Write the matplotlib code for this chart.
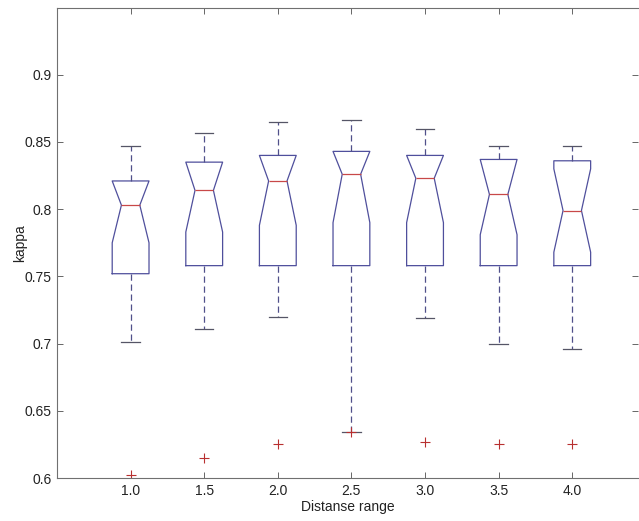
import matplotlib
matplotlib.use('Agg')
import matplotlib.pyplot as plt

# kappa statistics per distance range
distance = [1.0, 1.5, 2.0, 2.5, 3.0, 3.5, 4.0]
tick_labels = ['1.0', '1.5', '2.0', '2.5', '3.0', '3.5', '4.0']
medians = [0.803, 0.814, 0.821, 0.826, 0.823, 0.811, 0.799]
q1 = [0.752, 0.758, 0.758, 0.758, 0.758, 0.758, 0.758]
q3 = [0.821, 0.835, 0.840, 0.843, 0.840, 0.837, 0.836]
whisker_lo = [0.701, 0.711, 0.720, 0.634, 0.719, 0.700, 0.696]
whisker_hi = [0.847, 0.857, 0.865, 0.866, 0.860, 0.847, 0.847]
notch_lo = [0.775, 0.783, 0.788, 0.790, 0.790, 0.781, 0.768]
outliers = [0.602, 0.615, 0.625, 0.634, 0.627, 0.625, 0.625]

plt.rcParams['font.family'] = ['Liberation Sans', 'DejaVu Sans']

stats = []
for i in range(len(distance)):
    half = medians[i] - notch_lo[i]
    stats.append({
        'med': medians[i],
        'q1': q1[i],
        'q3': q3[i],
        'whislo': whisker_lo[i],
        'whishi': whisker_hi[i],
        'cilo': notch_lo[i],
        'cihi': min(medians[i] + half, q3[i]),
        'fliers': [outliers[i]],
    })

fig = plt.figure(figsize=(6.39, 5.21), dpi=100)
ax = fig.add_axes([0.0892, 0.0825, 0.910, 0.903])

blue = '#4f4f9c'
ax.bxp(stats, positions=distance, widths=0.25, shownotches=True,
       boxprops=dict(color=blue, linewidth=0.9),
       medianprops=dict(color='#c84848', linewidth=0.9),
       whiskerprops=dict(color='#50508a', linewidth=0.9, linestyle=(0, (5, 3))),
       capprops=dict(color='#555566', linewidth=0.9),
       flierprops=dict(marker='+', markeredgecolor='#b83030', markersize=7,
                       markeredgewidth=0.8, linestyle='none'))

ax.set_xlim(0.5, 4.45)
ax.set_ylim(0.6, 0.95)
ax.set_xticks(distance)
ax.set_xticklabels(tick_labels)
ax.set_yticks([0.6, 0.65, 0.7, 0.75, 0.8, 0.85, 0.9])
ax.set_yticklabels(['0.6', '0.65', '0.7', '0.75', '0.8', '0.85', '0.9'])
ax.tick_params(direction='in', top=True, right=True, length=4, width=0.7,
               colors='#666666', labelcolor='#222222', labelsize=10, pad=4)
for s in ax.spines.values():
    s.set_color('#707070')
    s.set_linewidth(0.8)
ax.spines['right'].set_visible(False)

ax.set_xlabel('Distanse range', fontsize=10, color='#222222', labelpad=2)
ax.set_ylabel('kappa', fontsize=10, color='#222222', labelpad=-2)

fig.savefig('out.png', dpi=100)
